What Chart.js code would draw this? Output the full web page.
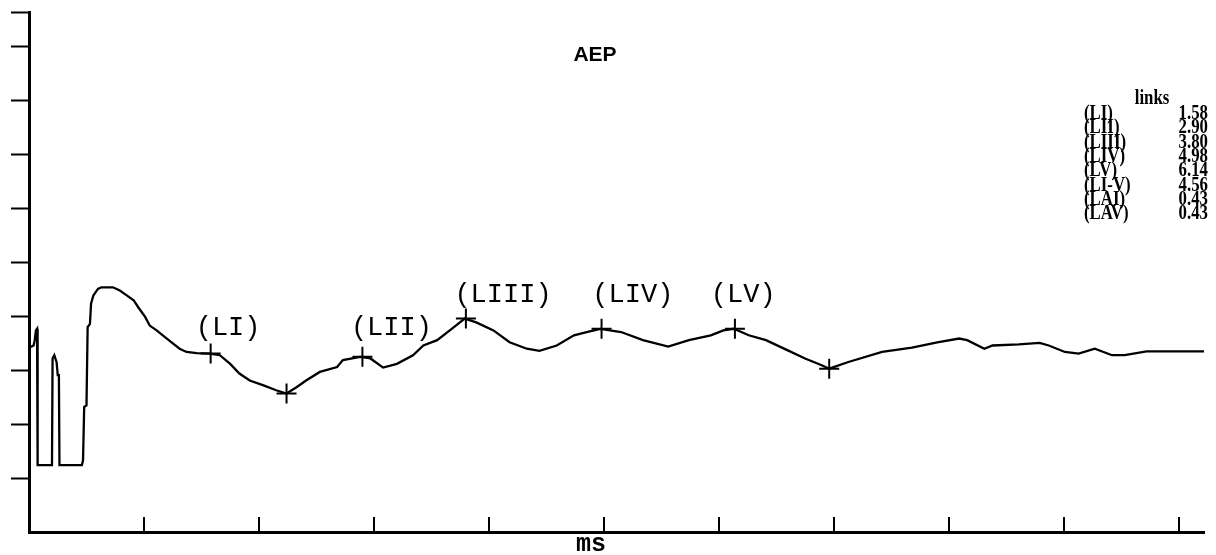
<!DOCTYPE html>
<html>
<head>
<meta charset="utf-8">
<script src="https://cdn.jsdelivr.net/npm/chart.js@4/dist/chart.umd.min.js"></script>
<style>
  html, body { margin: 0; padding: 0; background: #fff; }
  #wrap { width: 1216px; height: 555px; position: relative; }
</style>
</head>
<body>
<div id="wrap"><canvas id="aepChart" width="1216" height="555"></canvas></div>
<script>
// AEP trace, latency in ms and amplitude in axis units (one unit per y tick)
const ms = [
  0.01, 0.04, 0.05, 0.06, 0.07, 0.075, 0.20, 0.205, 0.22, 0.24, 0.25, 0.26, 0.265, 0.46,
  0.47, 0.48, 0.50, 0.51, 0.53, 0.54, 0.56, 0.60, 0.63, 0.73, 0.79, 0.85, 0.91, 0.95,
  1.01, 1.05, 1.11, 1.18, 1.24, 1.31, 1.37, 1.46, 1.57, 1.66, 1.75, 1.83, 1.92, 2.04,
  2.15, 2.24, 2.33, 2.41, 2.53, 2.68, 2.73, 2.88, 2.97, 3.08, 3.20, 3.34, 3.43, 3.55,
  3.66, 3.79, 3.89, 4.04, 4.18, 4.33, 4.44, 4.59, 4.74, 4.85, 4.97, 5.15, 5.34, 5.56,
  5.74, 5.93, 6.04, 6.13, 6.26, 6.41, 6.60, 6.75, 6.90, 6.96, 7.12, 7.42, 7.68, 7.90,
  8.09, 8.16, 8.31, 8.38, 8.61, 8.79, 8.87, 9.01, 9.13, 9.27, 9.42, 9.53, 9.72, 10.22
];
const amp = [
  3.43, 3.46, 3.56, 3.74, 3.77, 1.24, 1.24, 3.22, 3.28, 3.15, 2.91, 2.91, 1.24, 1.24,
  1.33, 2.32, 2.35, 3.80, 3.86, 4.24, 4.39, 4.51, 4.54, 4.54, 4.48, 4.39, 4.30, 4.17,
  3.99, 3.83, 3.74, 3.62, 3.52, 3.40, 3.34, 3.32, 3.31, 3.28, 3.12, 2.94, 2.81, 2.72,
  2.63, 2.57, 2.69, 2.81, 2.97, 3.06, 3.19, 3.25, 3.22, 3.05, 3.12, 3.28, 3.46, 3.56,
  3.74, 3.96, 3.89, 3.74, 3.52, 3.40, 3.36, 3.46, 3.65, 3.71, 3.77, 3.71, 3.56, 3.44,
  3.56, 3.65, 3.74, 3.77, 3.65, 3.56, 3.37, 3.22, 3.09, 3.03, 3.15, 3.34, 3.42, 3.52,
  3.59, 3.56, 3.40, 3.46, 3.48, 3.51, 3.46, 3.34, 3.31, 3.40, 3.28, 3.28, 3.35, 3.35
];

// cross markers on the trace
const markerMs = [1.58, 2.24, 2.90, 3.80, 4.98, 6.14, 6.96];
const markerAmp = [3.31, 2.57, 3.25, 3.96, 3.77, 3.77, 3.03];

// peak labels (left edge / baseline, in data units)
const peakLabels = ["(LI)", "(LII)", "(LIII)", "(LIV)", "(LV)"];
const peakLabelMs = [1.45, 2.80, 3.70, 4.90, 5.93];
const peakLabelAmp = [3.65, 3.65, 4.26, 4.26, 4.26];

// side table
const tableTitle = "links";
const tableNames = ["(LI)", "(LII)", "(LIII)", "(LIV)", "(LV)", "(LI-V)", "(LAI)", "(LAV)"];
const tableValues = ["1.58", "2.90", "3.80", "4.98", "6.14", "4.56", "0.43", "0.43"];

const xTicks = [1, 2, 3, 4, 5, 6, 7, 8, 9, 10];

const tracePoints = ms.map((x, i) => ({ x: x, y: amp[i] }));
const markerPoints = markerMs.map((x, i) => ({ x: x, y: markerAmp[i] }));

// draws the upward x ticks, the peak labels, title, axis label and the table
const annotate = {
  id: "annotate",
  afterDraw(chart) {
    const ctx = chart.ctx;
    const xs = chart.scales.x;
    const ys = chart.scales.y;
    const area = chart.chartArea;
    ctx.save();

    ctx.strokeStyle = "#000";
    ctx.lineWidth = 2;
    xTicks.forEach((t) => {
      const px = Math.round(xs.getPixelForValue(t));
      ctx.beginPath();
      ctx.moveTo(px, area.bottom);
      ctx.lineTo(px, area.bottom - 15);
      ctx.stroke();
    });

    ctx.fillStyle = "#000";
    ctx.font = "27px 'Liberation Mono'";
    ctx.textAlign = "left";
    ctx.textBaseline = "alphabetic";
    peakLabels.forEach((lab, i) => {
      ctx.fillText(lab, xs.getPixelForValue(peakLabelMs[i]), ys.getPixelForValue(peakLabelAmp[i]));
    });

    ctx.font = "bold 21px 'Liberation Sans'";
    ctx.textAlign = "center";
    ctx.fillText("AEP", 595, 61);

    ctx.font = "bold 25px 'Liberation Mono'";
    ctx.fillText("ms", 591, 551);

    // table, condensed serif
    ctx.font = "bold 20px 'Liberation Serif'";
    const sx = 0.84;
    ctx.save();
    ctx.scale(sx, 1);
    ctx.textAlign = "center";
    ctx.fillText(tableTitle, 1152 / sx, 104);
    tableNames.forEach((name, i) => {
      const y = 119 + i * 14.3;
      ctx.textAlign = "left";
      ctx.fillText(name, 1084 / sx, y);
      ctx.textAlign = "right";
      ctx.fillText(tableValues[i], 1208 / sx, y);
    });
    ctx.restore();

    ctx.restore();
  }
};

new Chart(document.getElementById("aepChart"), {
  type: "line",
  data: {
    datasets: [
      {
        data: tracePoints,
        borderColor: "#000",
        borderWidth: 2.3,
        pointRadius: 0,
        tension: 0,
        fill: false,
      },
      {
        data: markerPoints,
        showLine: false,
        pointStyle: "cross",
        pointRadius: 10,
        pointBorderWidth: 2,
        pointBorderColor: "#000",
        pointBackgroundColor: "#000",
      },
    ],
  },
  options: {
    responsive: false,
    animation: false,
    layout: { padding: { top: 11, right: 12, left: 0, bottom: 0 } },
    plugins: {
      legend: { display: false },
      tooltip: { enabled: false },
      title: { display: false },
    },
    scales: {
      x: {
        type: "linear",
        min: 0,
        max: 10.22,
        ticks: { display: false, stepSize: 1 },
        grid: { display: true, drawOnChartArea: false, drawTicks: false },
        border: { display: true, color: "#000", width: 3 },
        afterFit(scale) { scale.height = 23; },
      },
      y: {
        min: 0,
        max: 9.648,
        ticks: { display: false, stepSize: 1 },
        grid: {
          display: true,
          drawOnChartArea: false,
          drawTicks: true,
          tickLength: 18,
          tickWidth: 2,
          tickColor: (c) => (c.tick && c.tick.value === 0 ? "rgba(0,0,0,0)" : "#000"),
        },
        border: { display: true, color: "#000", width: 3 },
        afterFit(scale) { scale.width = 29; },
      },
    },
  },
  plugins: [annotate],
});
</script>
</body>
</html>
